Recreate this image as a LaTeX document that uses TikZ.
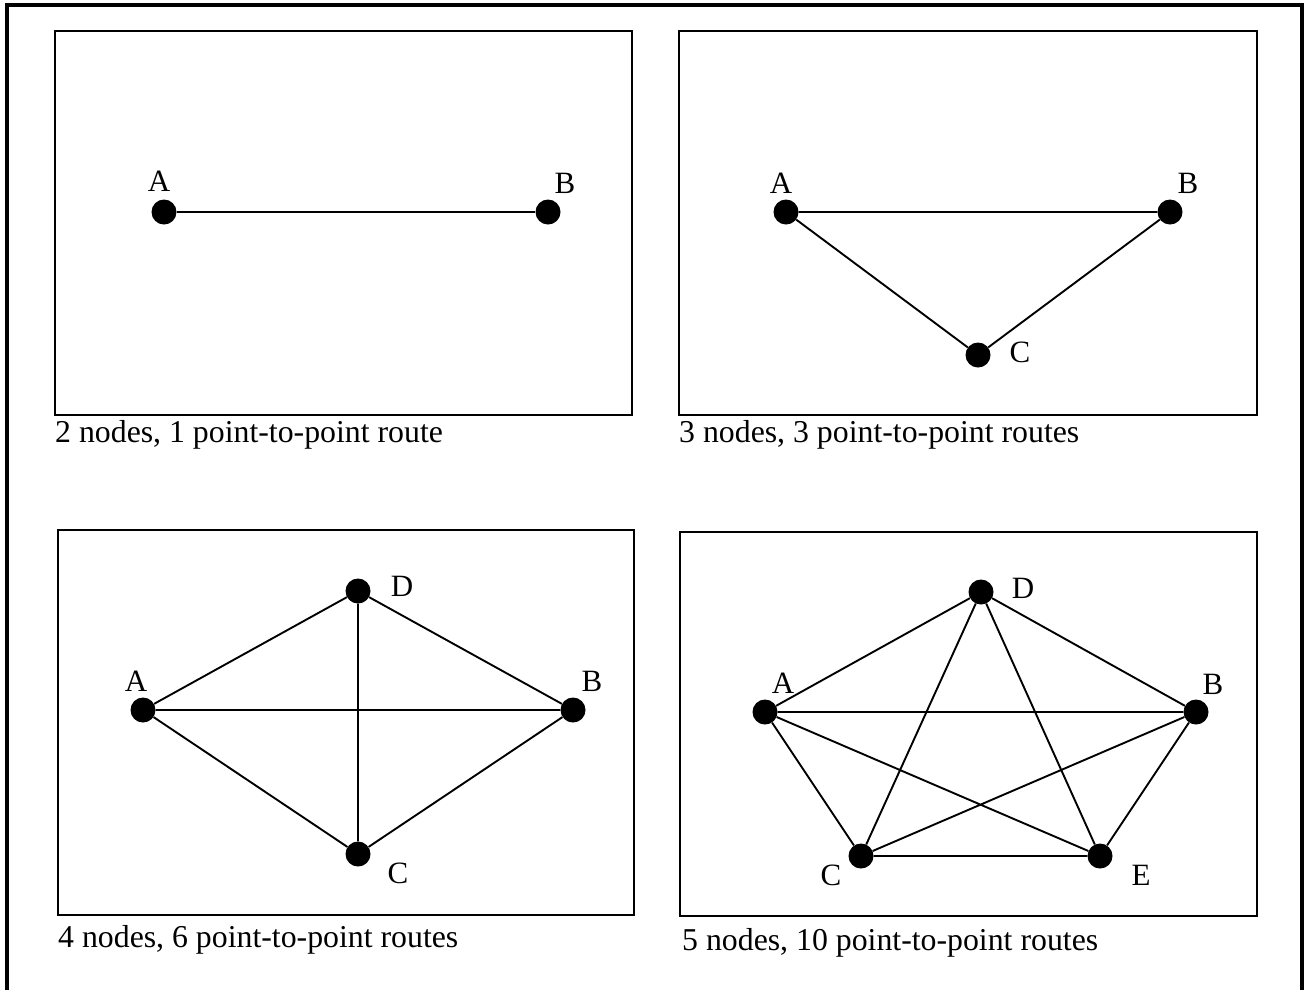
\documentclass[tikz,border=0pt]{standalone}
\usepackage{fontspec}
\setmainfont{Liberation Serif}
\begin{document}
\begin{tikzpicture}[x=1pt,y=-1pt,
  dot/.style={circle,fill=black,draw=none,minimum size=25pt,inner sep=0pt},
  lab/.style={font=\fontsize{31}{35}\selectfont,inner sep=0pt,anchor=center},
  captxt/.style={font=\fontsize{31.8}{36}\selectfont,inner sep=0pt,anchor=base west},
  panel/.style={draw=black,line width=1.8pt},
  link/.style={draw=black,line width=1.9pt}]
\useasboundingbox (0,0) rectangle (1304,989);
% outer frame
\draw[line width=3.5pt] (7,995) -- (7,5) -- (1302,5) -- (1302,995);
% panels
\draw[panel] (55,31) rectangle (632,415);
\draw[panel] (679,31) rectangle (1257,415);
\draw[panel] (58,530) rectangle (634,915);
\draw[panel] (680,532) rectangle (1257,916);
% panel 1
\node[dot] (p1a) at (164,212) {};
\node[dot] (p1b) at (548,212) {};
\draw[link] (p1a) -- (p1b);
\node[lab] (p1la) at (159,181) {A};
\node[lab] (p1lb) at (565,183) {B};
\node[captxt] (c1) at (55,442) {2 nodes, 1 point-to-point route};
% panel 2
\node[dot] (p2a) at (786,212) {};
\node[dot] (p2b) at (1170,212) {};
\node[dot] (p2c) at (978,355) {};
\draw[link] (p2a) -- (p2b) (p2a) -- (p2c) (p2b) -- (p2c);
\node[lab] (p2la) at (781,183) {A};
\node[lab] (p2lb) at (1188,183) {B};
\node[lab] (p2lc) at (1020,352) {C};
\node[captxt] (c2) at (679,442) {3 nodes, 3 point-to-point routes};
% panel 3
\node[dot] (p3a) at (143,710) {};
\node[dot] (p3b) at (573,710) {};
\node[dot] (p3d) at (358,591) {};
\node[dot] (p3c) at (358,854) {};
\draw[link] (p3a) -- (p3b) (p3a) -- (p3d) (p3a) -- (p3c) (p3b) -- (p3d) (p3b) -- (p3c) (p3d) -- (p3c);
\node[lab] (p3la) at (136,681) {A};
\node[lab] (p3lb) at (592,681) {B};
\node[lab] (p3ld) at (402,586) {D};
\node[lab] (p3lc) at (398,873) {C};
\node[captxt] (c3) at (58,947) {4 nodes, 6 point-to-point routes};
% panel 4
\node[dot] (p4a) at (765,712) {};
\node[dot] (p4b) at (1196,712) {};
\node[dot] (p4d) at (981,592) {};
\node[dot] (p4c) at (861,856) {};
\node[dot] (p4e) at (1100,856) {};
\draw[link] (p4a) -- (p4b) (p4a) -- (p4d) (p4a) -- (p4c) (p4a) -- (p4e)
  (p4b) -- (p4d) (p4b) -- (p4c) (p4b) -- (p4e)
  (p4d) -- (p4c) (p4d) -- (p4e) (p4c) -- (p4e);
\node[lab] (p4la) at (783,683) {A};
\node[lab] (p4lb) at (1213,684) {B};
\node[lab] (p4ld) at (1023,588) {D};
\node[lab] (p4lc) at (831,875) {C};
\node[lab] (p4le) at (1141,875) {E};
\node[captxt] (c4) at (682,950) {5 nodes, 10 point-to-point routes};
\end{tikzpicture}
\end{document}
